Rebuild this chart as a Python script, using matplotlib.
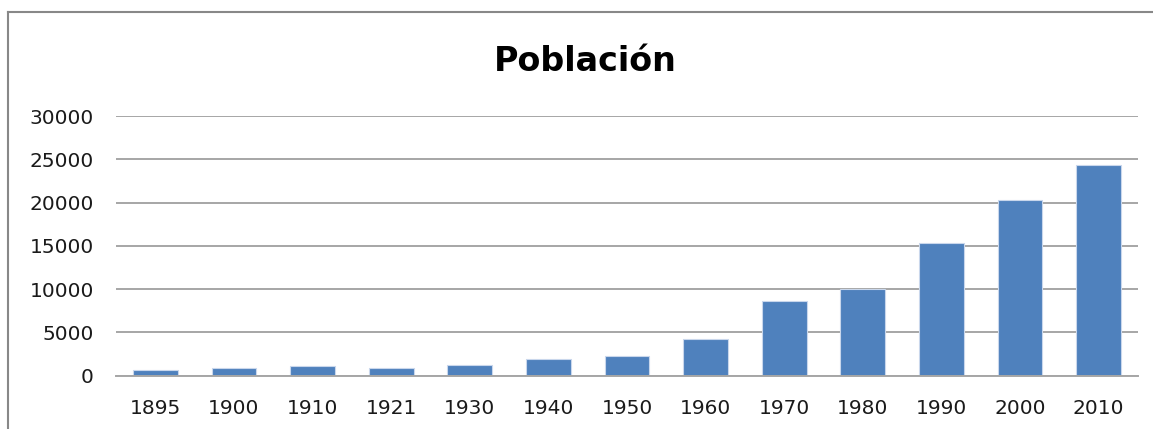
import matplotlib
matplotlib.use("Agg")
import matplotlib.pyplot as plt

# datos
years = ['1895', '1900', '1910', '1921', '1930', '1940', '1950',
         '1960', '1970', '1980', '1990', '2000', '2010']
poblacion = [600, 850, 1050, 850, 1270, 1960, 2230,
             4170, 8580, 10000, 15280, 20240, 24280]
y_ticks = [0, 5000, 10000, 15000, 20000, 25000, 30000]

plt.rcParams['font.family'] = ['DejaVu Sans']

fig = plt.figure(figsize=(11.53, 4.29), dpi=100)
ax = fig.add_axes([0.1006, 0.1247, 0.8864, 0.6049])

x = range(len(years))
ax.bar(x, poblacion, width=0.57, color='#4f81bd', edgecolor='#c9d7ec',
       linewidth=0.8, zorder=3)

ax.set_xlim(-0.5, len(years) - 0.5)
ax.set_ylim(0, 30000)
ax.set_yticks(y_ticks)
ax.set_yticklabels([str(t) for t in y_ticks])
ax.set_xticks(list(x))
ax.set_xticklabels(years)

ax.grid(axis='y', color='#a6a6a6', linewidth=1.4, zorder=0)
for s in ['top', 'right', 'left']:
    ax.spines[s].set_visible(False)
ax.spines['bottom'].set_color('#a6a6a6')
ax.spines['bottom'].set_linewidth(1.4)
ax.spines['bottom'].set_zorder(4)
ax.tick_params(axis='both', length=0, labelsize=14.5, colors='#1a1a1a')
ax.tick_params(axis='y', pad=16)
ax.tick_params(axis='x', pad=17)

fig.text(0.508, 0.857, 'Población', ha='center', va='center',
         fontsize=24, fontweight='bold', color='black')

# marco del grafico (solo se ve arriba y a la izquierda)
fig.add_artist(plt.Line2D([8 / 1153, 8 / 1153], [0, 1 - 12 / 429],
                          color='#888888', linewidth=1.5))
fig.add_artist(plt.Line2D([8 / 1153, 1], [1 - 12 / 429, 1 - 12 / 429],
                          color='#888888', linewidth=1.5))

fig.savefig('out.png', dpi=100)
